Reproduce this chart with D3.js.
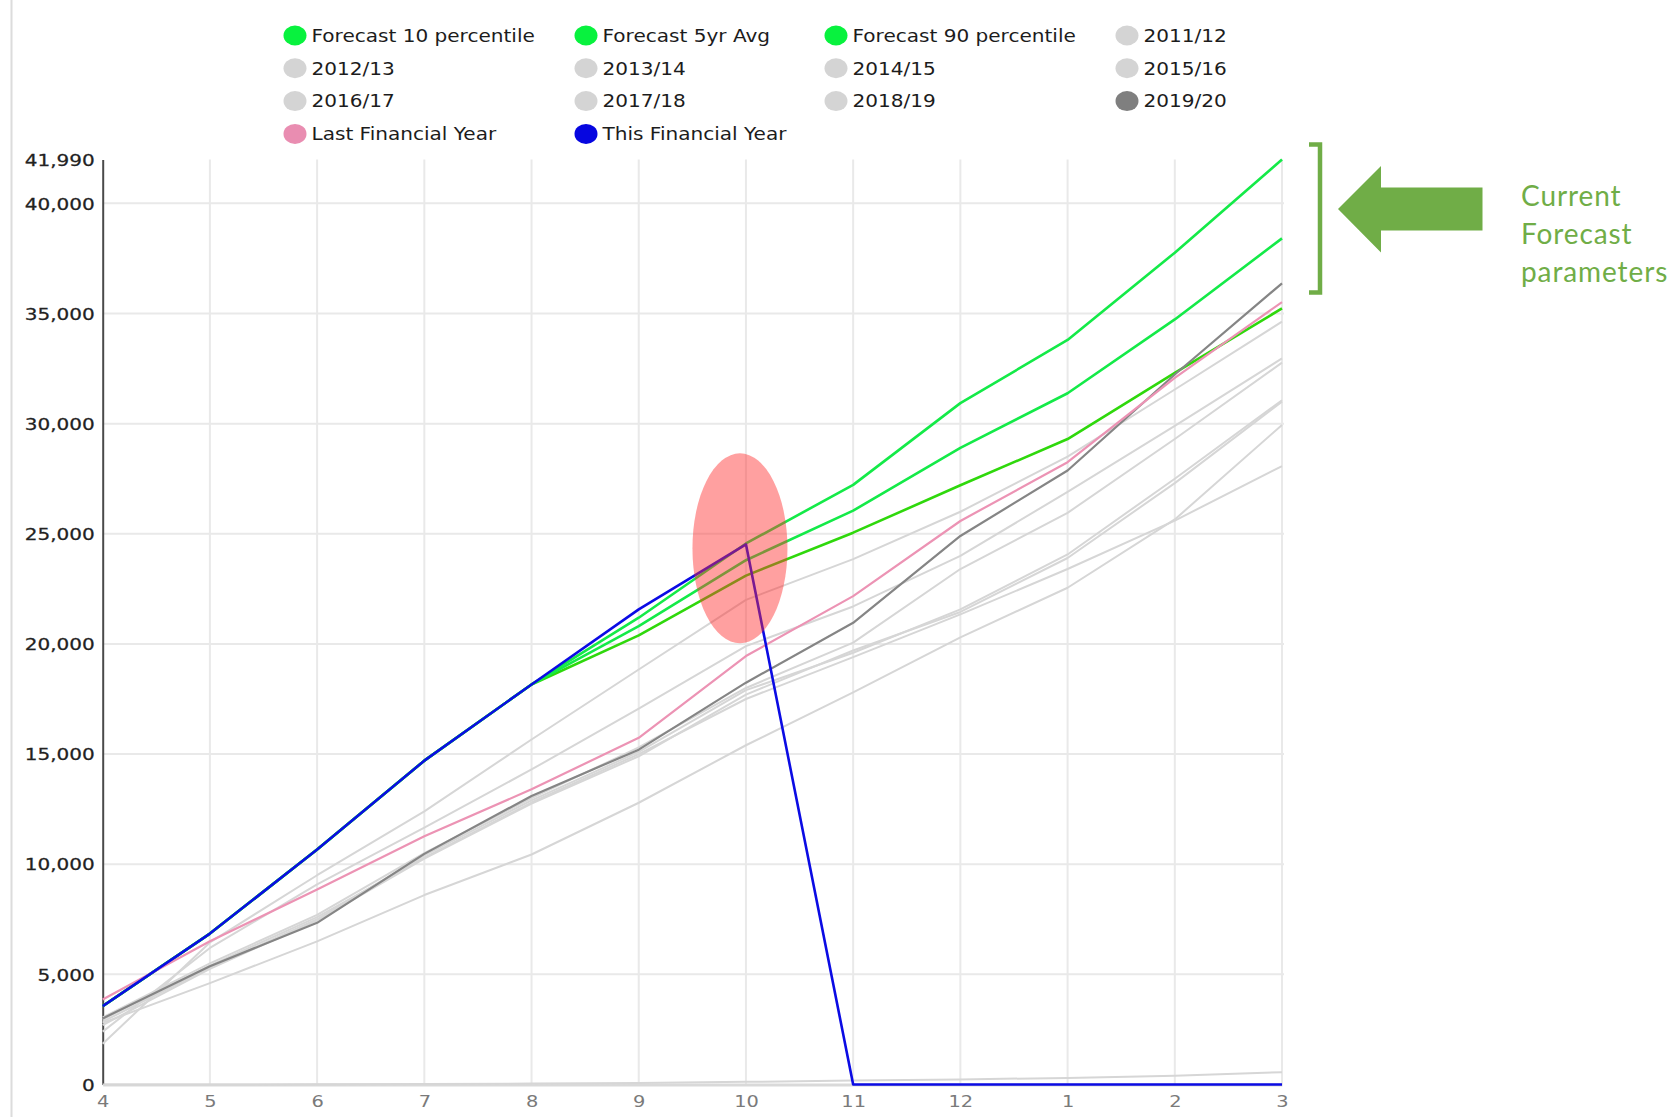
<!DOCTYPE html>
<html>
<head>
<meta charset="utf-8">
<script src="https://cdn.jsdelivr.net/npm/d3@7"></script>
<style>
  html, body { margin: 0; padding: 0; background: #ffffff; }
  svg { display: block; }
</style>
</head>
<body>
<svg id="chart" width="1676" height="1117"></svg>
<script>
// Financial-year months (April .. March)
const months = ['4', '5', '6', '7', '8', '9', '10', '11', '12', '1', '2', '3'];

// Forecast bands
const forecast10 = [3560, 6850, 10670, 14700, 18160, 20390, 23100, 25050, 27200, 29300, 32300, 35230];
const forecastAvg = [3560, 6850, 10670, 14700, 18160, 20810, 23800, 26050, 28900, 31380, 34730, 38410];
const forecast90 = [3560, 6850, 10670, 14700, 18160, 21190, 24560, 27220, 30930, 33800, 37760, 41990];

// Historic years (cumulative)
const fy2011 = [1850, 6450, 9500, 12400, 15660, 18840, 22000, 23850, 26000, 28500, 31550, 34630];
const fy2012 = [2400, 6200, 9080, 11660, 14300, 17060, 19900, 21700, 24000, 26900, 29900, 32960];
const fy2013 = [3050, 5500, 7700, 10500, 13000, 15300, 18000, 20060, 23400, 25950, 29300, 32770];
const fy2014 = [2850, 5300, 7500, 10400, 12900, 15100, 17900, 19600, 21570, 24060, 27500, 31060];
const fy2015 = [2800, 4600, 6500, 8600, 10440, 12790, 15400, 17800, 20300, 22550, 25650, 29940];
const fy2016 = [2950, 5400, 7600, 10300, 12800, 15000, 17500, 19400, 21340, 23400, 25600, 28070];
const fy2017 = [2700, 5250, 7450, 10250, 12750, 14900, 17700, 19700, 21450, 23900, 27300, 31000];
const fy2018 = [0, 0, 10, 20, 40, 70, 120, 180, 230, 300, 400, 560];
const fy2019 = [3000, 5370, 7340, 10470, 13100, 15200, 18240, 20960, 24900, 27870, 32230, 36370];

const lastFY = [3860, 6500, 8850, 11270, 13400, 15740, 19450, 22170, 25580, 28250, 32080, 35520];
const thisFY = [3560, 6850, 10670, 14700, 18160, 21570, 24520, 0, 0, 0, 0, 0];

// Axis ticks
const yTicks = [0, 5000, 10000, 15000, 20000, 25000, 30000, 35000, 40000, 41990];
const yMax = 41990;

// Series table (legend order = draw order)
const GREEN = '#14ea48', GREEN_LOW = '#2fd80c', LIGHT = '#d6d6d6', DARK = '#858585', PINK = '#ec93b4', BLUE = '#0b0be4';
const series = [
  { name: 'Forecast 10 percentile', values: forecast10, stroke: GREEN_LOW, dot: '#08f23e', width: 2.6 },
  { name: 'Forecast 5yr Avg', values: forecastAvg, stroke: GREEN, dot: '#08f23e', width: 2.6 },
  { name: 'Forecast 90 percentile', values: forecast90, stroke: GREEN, dot: '#08f23e', width: 2.6 },
  { name: '2011/12', values: fy2011, stroke: LIGHT, dot: '#d4d4d4', width: 2 },
  { name: '2012/13', values: fy2012, stroke: LIGHT, dot: '#d4d4d4', width: 2 },
  { name: '2013/14', values: fy2013, stroke: LIGHT, dot: '#d4d4d4', width: 2 },
  { name: '2014/15', values: fy2014, stroke: LIGHT, dot: '#d4d4d4', width: 2 },
  { name: '2015/16', values: fy2015, stroke: LIGHT, dot: '#d4d4d4', width: 2 },
  { name: '2016/17', values: fy2016, stroke: LIGHT, dot: '#d4d4d4', width: 2 },
  { name: '2017/18', values: fy2017, stroke: LIGHT, dot: '#d4d4d4', width: 2 },
  { name: '2018/19', values: fy2018, stroke: LIGHT, dot: '#d4d4d4', width: 2 },
  { name: '2019/20', values: fy2019, stroke: DARK, dot: '#7f7f7f', width: 2.2 },
  { name: 'Last Financial Year', values: lastFY, stroke: PINK, dot: '#e98db1', width: 2.2 },
  { name: 'This Financial Year', values: thisFY, stroke: BLUE, dot: '#0606e0', width: 2.6 }
];

const svg = d3.select('#chart');

const x = d3.scalePoint().domain(months).range([102.7, 1282]);
const y = d3.scaleLinear().domain([0, yMax]).range([1084.5, 159.5]);

// container edge on the left
svg.append('line')
  .attr('x1', 11.5).attr('x2', 11.5).attr('y1', 0).attr('y2', 1117)
  .attr('stroke', '#dcdcdc').attr('stroke-width', 2);

// grid
const grid = svg.append('g');
grid.selectAll('line.h').data(yTicks.filter(v => v > 0 && v < yMax)).join('line')
  .attr('class', 'h')
  .attr('x1', x.range()[0]).attr('x2', x.range()[1] + 2)
  .attr('y1', d => y(d)).attr('y2', d => y(d))
  .attr('stroke', '#e9e9e9').attr('stroke-width', 2);
grid.selectAll('line.v').data(months.slice(1)).join('line')
  .attr('class', 'v')
  .attr('x1', d => x(d)).attr('x2', d => x(d))
  .attr('y1', y(yMax)).attr('y2', y(0))
  .attr('stroke', '#e9e9e9').attr('stroke-width', 2);

// x axis
const xAxis = svg.append('g')
  .attr('transform', `translate(0,${y(0)})`)
  .call(d3.axisBottom(x).tickSize(0).tickPadding(0));
xAxis.select('.domain').attr('stroke', '#d9d9d9').attr('stroke-width', 3);
xAxis.selectAll('text')
  .attr('y', 23).attr('dy', null).attr('x', 0)
  .attr('font-family', 'DejaVu Sans').attr('font-size', 15.5)
  .attr('fill', '#7a7a7a')
  .attr('transform', 'scale(1.25,1)');

// y axis
const yAxis = svg.append('g')
  .attr('transform', `translate(${x.range()[0]},0)`)
  .call(d3.axisLeft(y).tickValues(yTicks).tickFormat(d3.format(',')).tickSize(0).tickPadding(0));
yAxis.select('.domain').attr('stroke', '#4a4a4a').attr('stroke-width', 2);
yAxis.selectAll('text')
  .attr('x', -6.4).attr('dy', '0.36em')
  .attr('font-family', 'DejaVu Sans').attr('font-size', 16)
  .attr('fill', '#222222')
  .attr('stroke', '#222222').attr('stroke-width', 0.25)
  .attr('transform', 'scale(1.25,1)');

// lines
const line = d3.line()
  .x((d, i) => x(months[i]))
  .y(d => y(d));
svg.append('g').selectAll('path').data(series).join('path')
  .attr('d', s => line(s.values))
  .attr('fill', 'none')
  .attr('stroke', s => s.stroke)
  .attr('stroke-width', s => s.width)
  .attr('stroke-linejoin', 'round');

// legend
const legendCols = [295, 586, 836, 1127];
const legend = svg.append('g');
const items = legend.selectAll('g').data(series).join('g')
  .attr('transform', (s, i) => `translate(${legendCols[i % 4]},${35.5 + Math.floor(i / 4) * 32.8})`);
items.append('ellipse').attr('rx', 11.5).attr('ry', 10).attr('fill', s => s.dot);
items.append('text')
  .attr('transform', 'translate(16.5,6.2) scale(1.18,1)')
  .attr('font-family', 'DejaVu Sans').attr('font-size', 17)
  .attr('fill', '#1c1c1c')
  .text(s => s.name);

// highlight on the month where this year's actuals stop
const iLast = 6;
svg.append('ellipse')
  .attr('cx', x(months[iLast]) - 6)
  .attr('cy', y(thisFY[iLast]) + 4)
  .attr('rx', 47.5).attr('ry', 95)
  .attr('fill', 'rgba(255,45,45,0.45)');

// forecast bracket, arrow and note
const NOTE = '#70ad47';
svg.append('path')
  .attr('d', 'M1309,144.5 H1320 V292.5 H1309')
  .attr('fill', 'none').attr('stroke', NOTE).attr('stroke-width', 4.5);
svg.append('path')
  .attr('d', 'M1338,209 L1381,166 V187.5 H1482.5 V230.5 H1381 V252.5 Z')
  .attr('fill', NOTE);
const note = svg.append('g')
  .attr('font-family', 'Lato').attr('font-size', 28).attr('letter-spacing', 0.9).attr('fill', NOTE);
['Current', 'Forecast', 'parameters'].forEach((t, i) => {
  note.append('text').attr('x', 1521).attr('y', 206 + i * 37.8).text(t);
});
</script>
</body>
</html>
